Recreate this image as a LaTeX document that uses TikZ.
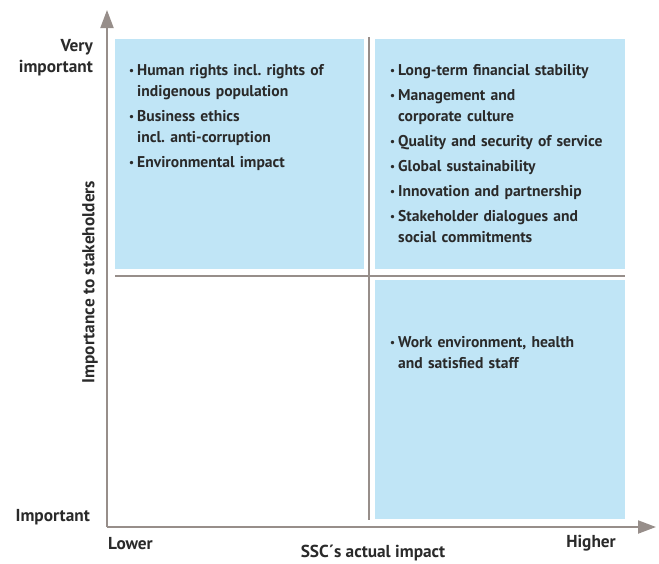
\documentclass[tikz,border=0pt]{standalone}
\usepackage{fontspec}
\setmainfont{PT Sans}
\usepackage{tikz}
\usetikzlibrary{positioning,arrows.meta}
\definecolor{axisgray}{HTML}{978E8A}
\definecolor{boxblue}{HTML}{C0E5F6}
\definecolor{txtgray}{HTML}{2A2A2A}
\frenchspacing
\newcommand{\blt}[1]{\hangindent=8pt\hangafter=1\noindent\makebox[8pt][l]{\raisebox{0.5pt}{\fontsize{11}{11}\selectfont\textbullet}}#1\par}

\tikzset{
    quad/.style={fill=boxblue, draw=none},
    axisline/.style={draw=axisgray, line width=2pt},
    itemlist/.style={anchor=north west, text width=240pt, inner sep=0pt, align=left,
        font=\fontsize{15.6}{21}\selectfont\bfseries, text=txtgray},
    axislabel/.style={font=\fontsize{17.3}{21}\selectfont\bfseries, text=txtgray, inner sep=0pt},
}

\begin{document}
\begin{tikzpicture}[x=1pt, y=-1pt]
    \useasboundingbox (0,0) rectangle (659,563);

    %% Quadrants
    \fill[quad] (115,39) rectangle (364,269);
    \fill[quad] (375,39) rectangle (625,269);
    \fill[quad] (375,280) rectangle (625,519);

    %% Axes and dividers
    \coordinate (origin) at (107,527);
    \coordinate (ytip) at (107,10);
    \coordinate (xtip) at (656,527);
    \coordinate (vtop) at (369,37);
    \coordinate (vbot) at (369,520);
    \coordinate (hleft) at (115,275.5);
    \coordinate (hright) at (625,275.5);
    \draw[axisline] (vtop) -- (vbot);
    \draw[axisline] (hleft) -- (hright);
    \draw[axisline, -{Triangle[length=18pt,width=13pt]}] (origin) -- (ytip);
    \draw[axisline, -{Triangle[length=18pt,width=13pt]}] (origin) -- (xtip);

    %% Topics
    \node[itemlist] (lowhigh) at (129,64) {\parskip=4pt
        \blt{Human rights incl. rights of\newline indigenous population}
        \blt{Business ethics\newline incl. anti-corruption}
        \blt{Environmental impact}};
    \node[itemlist] (highhigh) at (390,64) {\parskip=4pt
        \blt{Long-term financial stability}
        \blt{Management and\newline corporate culture}
        \blt{Quality and security of service}
        \blt{Global sustainability}
        \blt{Innovation and partnership}
        \blt{Stakeholder dialogues and\newline social commitments}};
    \node[itemlist] (highlow) at (390,336) {\parskip=4pt
        \blt{Work environment, health\newline and satisfied staff}};

    %% Axis labels
    \node[axislabel, anchor=east, align=right] (veryimp) at (93,57.5) {Very\\important};
    \node[axislabel, anchor=east] (imp) at (90,517) {Important};
    \node[axislabel, rotate=90] (ylab) at (90,282) {Importance to stakeholders};
    \node[axislabel, anchor=west] (lower) at (108,544) {Lower};
    \node[axislabel, anchor=east] (higher) at (616,543) {Higher};
    \node[axislabel] (xlab) at (373,553) {SSC´s actual impact};
\end{tikzpicture}
\end{document}
